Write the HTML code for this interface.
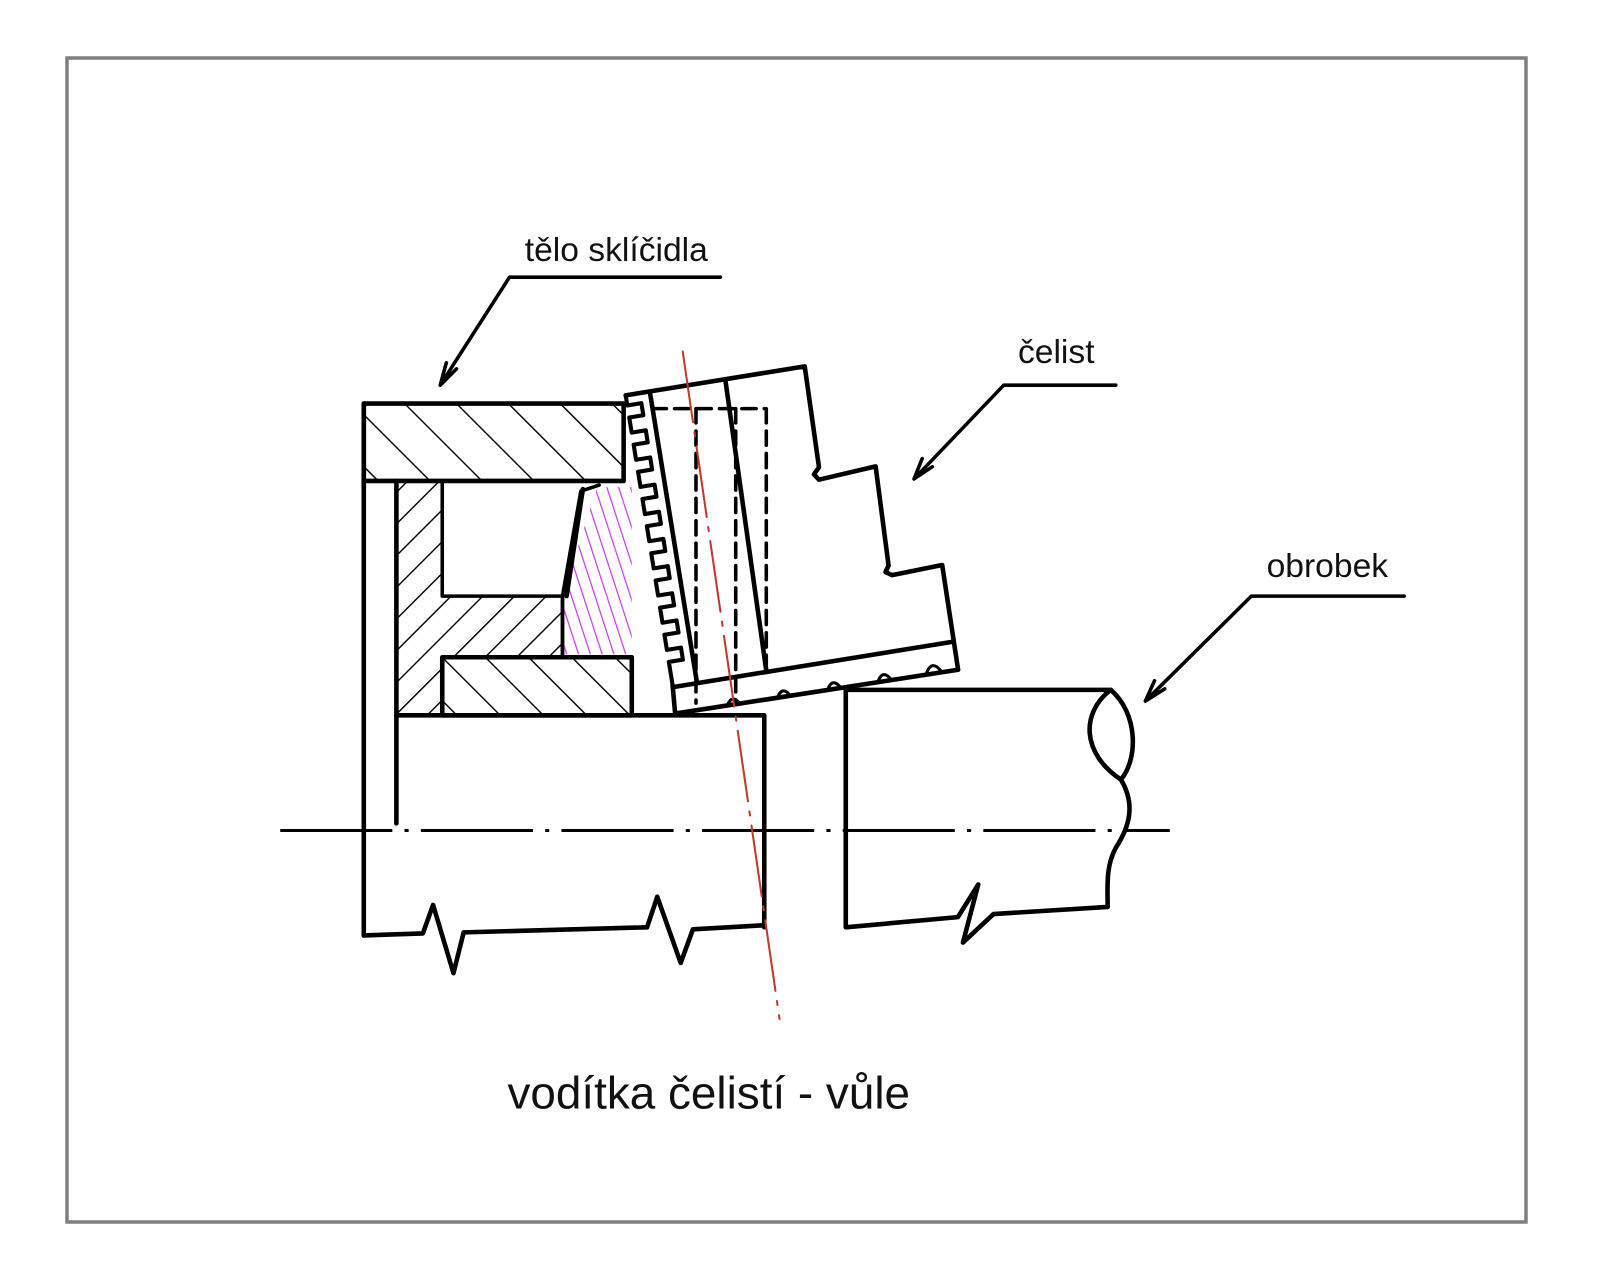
<!DOCTYPE html>
<html><head><meta charset="utf-8"><style>
html,body{margin:0;padding:0;background:#fff;}
svg{display:block;}
text{font-family:"Liberation Sans",sans-serif;fill:#111;}
</style></head><body>
<svg width="1598" height="1285" viewBox="0 0 1598 1285" xmlns="http://www.w3.org/2000/svg">
<defs>
<pattern id="hb" patternUnits="userSpaceOnUse" width="36" height="36" patternTransform="rotate(-45)">
<line x1="0" y1="0" x2="0" y2="36" stroke="#000" stroke-width="2.8"/></pattern>
<pattern id="hf" patternUnits="userSpaceOnUse" width="22" height="22" patternTransform="rotate(45)">
<line x1="0" y1="0" x2="0" y2="22" stroke="#000" stroke-width="2.8"/></pattern>
<pattern id="hc" patternUnits="userSpaceOnUse" width="30" height="30" patternTransform="rotate(-45)">
<line x1="0" y1="0" x2="0" y2="30" stroke="#000" stroke-width="2.8"/></pattern>
<pattern id="hp" patternUnits="userSpaceOnUse" width="11" height="11" patternTransform="rotate(-18)">
<line x1="0" y1="0" x2="0" y2="11" stroke="#c43ae8" stroke-width="2.4"/></pattern>
</defs>
<rect x="67" y="58" width="1459" height="1164" fill="none" stroke="#808080" stroke-width="3.5"/>
<g transform="scale(1.019)" stroke="#000" stroke-width="4.5" fill="none" stroke-linejoin="round" stroke-linecap="round">
<rect x="357" y="396" width="255" height="76" fill="url(#hb)"/>
<path d="M389,472 H434 V585 H552 V645 H434 V702 H389 Z" fill="url(#hf)" stroke-width="3.5"/>
<rect x="434" y="645" width="186" height="57" fill="url(#hc)"/>
<path d="M586,478 L620,478 L620,642 L552,642 L552,585 Z" fill="url(#hp)" stroke="none"/>
<path d="M552,642 L552,585 L570,482 L588,476" stroke-width="3.5"/>
<path d="M556,585 L572,480"/>
<line x1="357" y1="396" x2="357" y2="918"/>
<line x1="389" y1="472" x2="389" y2="808"/>
<path d="M389,702 H750 V910"/>
<g transform="translate(614,388) rotate(-9.2)">
<path d="M0,0 L178,0 L176,100 L170,106 L174,112 L231,108 L228,206 L224,212 L230,216 L280,214 L279,318 L-2,316 L0,288" fill="#fff"/>
<path d="M0,0 V10 H14 V22 H0 V37 H14 V49 H0 V64 H14 V76 H0 V91 H14 V103 H0 V118 H14 V130 H0 V145 H14 V157 H0 V172 H14 V184 H0 V199 H14 V211 H0 V226 H14 V238 H0 V253 H14 V265 H0 V288" stroke-width="4"/>
<line x1="24" y1="0" x2="24" y2="290"/>
<line x1="99" y1="0" x2="93" y2="290"/>
<line x1="0" y1="290" x2="279" y2="290"/>
<path d="M50,316 q6,-10 12,0 M100,316 q6,-10 12,0 M150,316 q6,-10 12,0 M200,316 q6,-10 12,0 M248,316 q7,-12 14,0" stroke-width="3"/>
</g>
<path d="M640,401 H752 M683,401 V690 M722,401 V690 M752,401 V660" stroke-dasharray="14,8" stroke-width="3.5"/>
<path d="M357,918 L415,916 L425,888 L445,955 L455,915 L635,910 L645,880 L668,945 L680,912 L750,908"/>
<path d="M1090,677 H830 V910 L940,900 L960,868 L945,925 L975,897 L1087,890"/>
<path d="M1090,677 C1060,700 1062,740 1100,765 M1090,677 C1117,700 1117,745 1100,765 C1115,790 1108,812 1095,832 C1085,850 1087,870 1087,890"/>
<path d="M275,815 H1148" stroke-width="3" stroke-dasharray="110,12,4,12" stroke-linecap="butt"/>
<line x1="670" y1="345" x2="765" y2="1000" stroke="#c0392b" stroke-width="2" stroke-dasharray="70,10,4,10"/>
<path d="M707,272 H500 L432,378 M432,378 l6,-22 M432,378 l16,-16" stroke-width="3.5"/>
<path d="M1095,378 H985 L897,470 M897,470 l8,-20 M897,470 l18,-12" stroke-width="3.5"/>
<path d="M1378,585 H1228 L1124,688 M1124,688 l9,-20 M1124,688 l19,-12" stroke-width="3.5"/>
</g>
<g transform="scale(1.019)">
<text x="515" y="256" font-size="33">tělo sklíčidla</text>
<text x="999" y="356" font-size="33">čelist</text>
<text x="1243" y="566" font-size="33">obrobek</text>
<text x="498" y="1088" font-size="45">vodítka čelistí - vůle</text>
</g>
</svg>
</body></html>
